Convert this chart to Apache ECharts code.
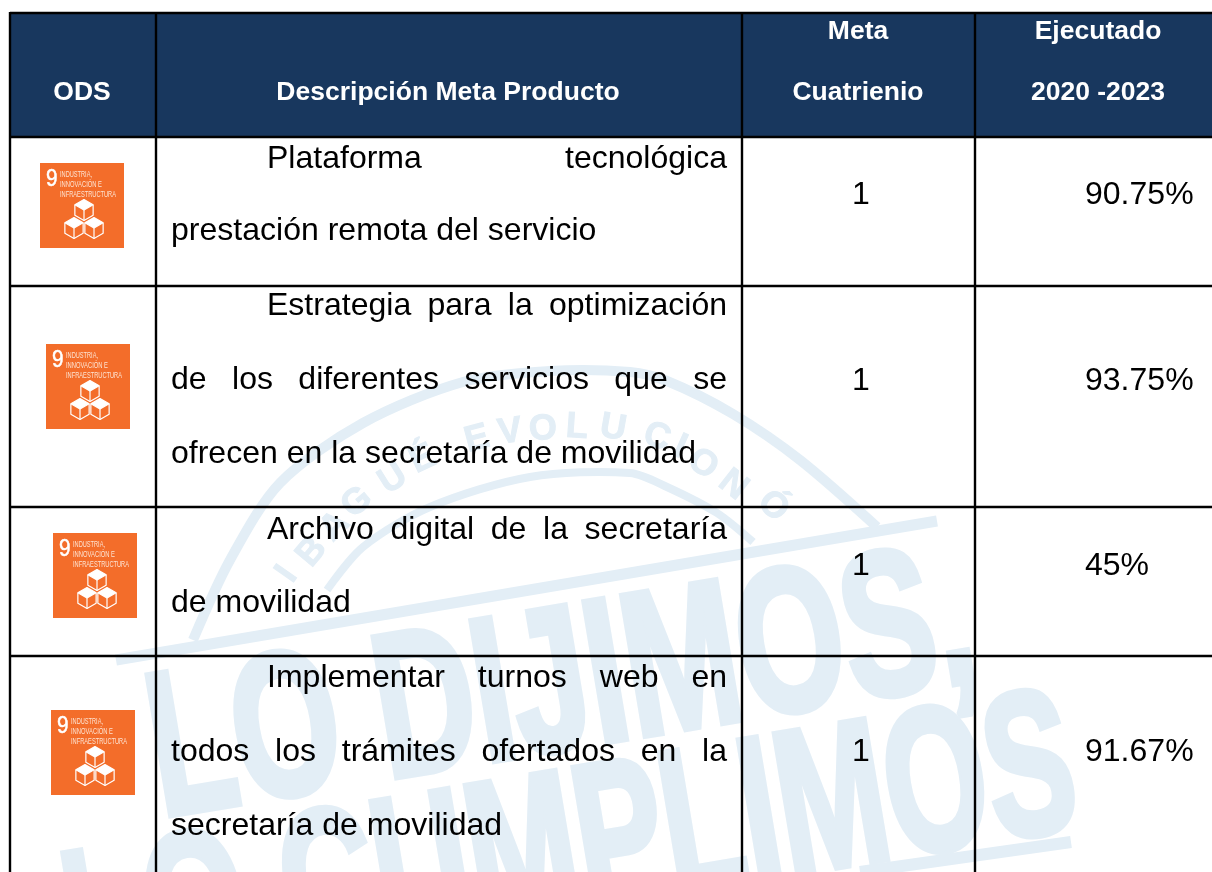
<!DOCTYPE html>
<html>
<head>
	<meta charset="utf-8">
	<title>Metas de producto</title>
	<script src="https://cdn.jsdelivr.net/npm/echarts@6/dist/echarts.min.js"></script>
	<style type="text/css">
		* {
			padding: 0;
			margin: 0;
		}
		#main {
			width: 1212px;
			height: 872px;
		}
	</style>
</head>
<body>
	<div id="main"></div>
	<script type="text/javascript">
		var headerOds = ['ODS'];
		var headerDesc = ['Descripción Meta Producto'];
		var headerMeta = ['Meta', 'Cuatrienio'];
		var headerEjec = ['Ejecutado', '2020 -2023'];
		var descLines = [
			['Plataforma tecnológica', 'prestación remota del servicio'],
			['Estrategia para la optimización', 'de los diferentes servicios que se', 'ofrecen en la secretaría de movilidad'],
			['Archivo digital de la secretaría', 'de movilidad'],
			['Implementar turnos web en', 'todos los trámites ofertados en la', 'secretaría de movilidad']
		];
		var metaValues = ['1', '1', '1', '1'];
		var ejecutadoValues = ['90.75%', '93.75%', '45%', '91.67%'];
		var odsLines = ['INDUSTRIA,', 'INNOVACIÓN E', 'INFRAESTRUCTURA'];
		var watermarkTop = 'IBAGUÉ EVOLUCIONÓ';
		var watermarkBig = ['LO DIJIMOS,', 'LO CUMPLIMOS'];

		var FONT = '"Liberation Sans", Arial, sans-serif';
		var NARROW = '"Liberation Sans Narrow", "Liberation Sans", sans-serif';
		var NAVY = '#18375e', ORANGE = '#f36d2a', WM = '#e3eef6';
		var BODY = 30.5, BODY_SX = 1.05, HEAD = 26, HEAD_SX = 1.02;

		var colX = [10, 156, 742, 975];
		var rowY = [13, 137, 286, 507, 656];
		var textLeft = 171, textRight = 727, firstIndent = 267;
		var lineBase = [[168, 240], [315, 389, 463], [539, 612], [687, 761, 835]];
		var numBase = [204, 390, 575, 761];
		var iconPos = [[40, 163], [46, 344], [53, 533], [51, 710]];

		var ctx = document.createElement('canvas').getContext('2d');
		function measure(s, font) {
			ctx.font = font;
			return ctx.measureText(s).width;
		}
		var els = [];
		// y is the alphabetic baseline
		function text(s, x, y, size, opt) {
			opt = opt || {};
			var w = opt.bold ? 'bold ' : '';
			var font = w + size + 'px ' + (opt.family || FONT);
			els.push({
				type: 'text',
				x: x,
				y: y - 0.27 * size,
				rotation: opt.rotation || 0,
				scaleX: opt.scaleX || 1,
				z: opt.z || 10,
				style: {
					text: s,
					x: 0,
					y: 0,
					font: font,
					fill: opt.fill || '#000',
					align: opt.align || 'left',
					verticalAlign: 'middle',
					stroke: opt.stroke,
					lineWidth: opt.lineWidth || 0
				}
			});
		}
		function line(pts, width, color, z, smooth) {
			els.push({
				type: 'polyline',
				z: z,
				shape: { points: pts, smooth: smooth || 0 },
				style: { stroke: color, lineWidth: width, fill: null, lineCap: 'butt', lineJoin: 'round' }
			});
		}
		function rect(x, y, w, h, color, z) {
			els.push({ type: 'rect', z: z, shape: { x: x, y: y, width: w, height: h }, style: { fill: color } });
		}

		// watermark
		var WMZ = 1;
		line([[193, 640], [230, 560], [280, 483], [363, 423], [463, 382], [550, 371], [630, 372], [667, 381], [733, 414], [800, 460], [877, 527]], 10, WM, WMZ, 0.3);
		line([[327, 590], [363, 547], [430, 507], [530, 477], [630, 473], [667, 487], [717, 513], [753, 542]], 8, WM, WMZ, 0.3);
		line([[116, 660], [937, 521]], 11, WM, WMZ);
		line([[860, 872], [1071, 842]], 12, WM, WMZ);
		var wmChars = watermarkTop.replace(' ', '').split('');
		var wmPlace = [
			[287, 572, 55], [312, 550, 50], [335, 524, 45], [357, 500, 40], [393, 477, 32], [423, 457, 25],
			[477, 437, 15], [510, 430, 8], [543, 427, 3], [577, 425, -4], [613, 426, -10],
			[657, 435, -18], [680, 445, -24], [703, 462, -32], [733, 483, -38], [773, 504, -44]
		];
		wmChars.forEach(function (c, i) {
			var p = wmPlace[i];
			text(c, p[0], p[1] + 12, 36, { family: NARROW, bold: true, fill: WM, align: 'center', z: WMZ, rotation: p[2] * Math.PI / 180, stroke: WM, lineWidth: 1 });
		});
		var wmAngle = 9.5 * Math.PI / 180;
		var bigFont = 'bold 205px ' + NARROW;
		text(watermarkBig[0], 152, 816, 205, {
			family: NARROW, bold: true, fill: WM, z: WMZ, rotation: wmAngle,
			scaleX: 832 / measure(watermarkBig[0], bigFont), stroke: WM, lineWidth: 7
		});
		text(watermarkBig[1], 68, 994, 205, {
			family: NARROW, bold: true, fill: WM, z: WMZ, rotation: wmAngle,
			scaleX: 1020 / measure(watermarkBig[1], bigFont), stroke: WM, lineWidth: 7
		});

		// header band and grid lines
		rect(colX[0], rowY[0], 1212 - colX[0], rowY[1] - rowY[0], NAVY, 5);
		var i;
		for (i = 0; i < colX.length; i++) {
			line([[colX[i], rowY[0] - 1], [colX[i], 872]], 2.4, '#000', 6);
		}
		for (i = 0; i < rowY.length; i++) {
			line([[colX[0], rowY[i]], [1212, rowY[i]]], 2.4, '#000', 6);
		}

		// header text
		var hOpt = { bold: true, fill: '#fff', align: 'center', scaleX: HEAD_SX };
		text(headerOds[0], 82, 100, HEAD, hOpt);
		text(headerDesc[0], 448, 100, HEAD, hOpt);
		text(headerMeta[0], 858, 39, HEAD, hOpt);
		text(headerMeta[1], 858, 100, HEAD, hOpt);
		text(headerEjec[0], 1098, 39, HEAD, hOpt);
		text(headerEjec[1], 1098, 100, HEAD, hOpt);

		// justified description lines, the last line of a cell stays flush left
		var bodyFont = BODY + 'px ' + FONT;
		var bOpt = { scaleX: BODY_SX };
		descLines.forEach(function (cell, r) {
			cell.forEach(function (s, l) {
				var left = l === 0 ? firstIndent : textLeft;
				var base = lineBase[r][l];
				if (l === cell.length - 1) {
					text(s, left, base, BODY, bOpt);
					return;
				}
				var words = s.split(' ');
				var sum = 0;
				words.forEach(function (w) { sum += measure(w, bodyFont) * BODY_SX; });
				var gap = (textRight - left - sum) / (words.length - 1);
				var x = left;
				words.forEach(function (w) {
					text(w, x, base, BODY, bOpt);
					x += measure(w, bodyFont) * BODY_SX + gap;
				});
			});
		});

		// numeric columns
		metaValues.forEach(function (v, r) {
			text(v, 861, numBase[r], BODY, { align: 'center', scaleX: BODY_SX });
		});
		ejecutadoValues.forEach(function (v, r) {
			text(v, 1085, numBase[r], BODY, bOpt);
		});

		// ODS 9 icon
		function cube(cx, cy, r, z) {
			var dx = r * 0.87, dy = r * 0.5;
			els.push({
				type: 'polygon', z: z,
				shape: { points: [[cx, cy - r], [cx + dx, cy - dy], [cx, cy], [cx - dx, cy - dy]] },
				style: { fill: '#fff' }
			});
			line([[cx, cy - r], [cx + dx, cy - dy], [cx + dx, cy + dy], [cx, cy + r], [cx - dx, cy + dy], [cx - dx, cy - dy], [cx, cy - r]], 1.2, '#fff', z);
			line([[cx - dx, cy - dy], [cx, cy], [cx + dx, cy - dy]], 1.2, '#fff', z);
			line([[cx, cy], [cx, cy + r]], 1.2, '#fff', z);
		}
		iconPos.forEach(function (p) {
			var x = p[0], y = p[1];
			rect(x, y, 84, 85, ORANGE, 7);
			text('9', x + 6, y + 23, 23, { family: NARROW, fill: '#fff', z: 8, scaleX: 0.9, stroke: '#fff', lineWidth: 0.5 });
			var widths = [32, 42, 56];
			odsLines.forEach(function (s, k) {
				var f = '9px ' + NARROW;
				text(s, x + 20, y + 14 + k * 10, 9, {
					family: NARROW, fill: '#fde3d2', z: 8,
					scaleX: widths[k] / measure(s, f)
				});
			});
			cube(x + 44, y + 47, 10.5, 8);
			cube(x + 34, y + 65, 10.5, 8);
			cube(x + 54, y + 65, 10.5, 8);
		});

		var chart = echarts.init(document.getElementById('main'));
		chart.setOption({
			backgroundColor: '#fff',
			animation: false,
			graphic: { elements: els }
		});
	</script>
</body>
</html>
